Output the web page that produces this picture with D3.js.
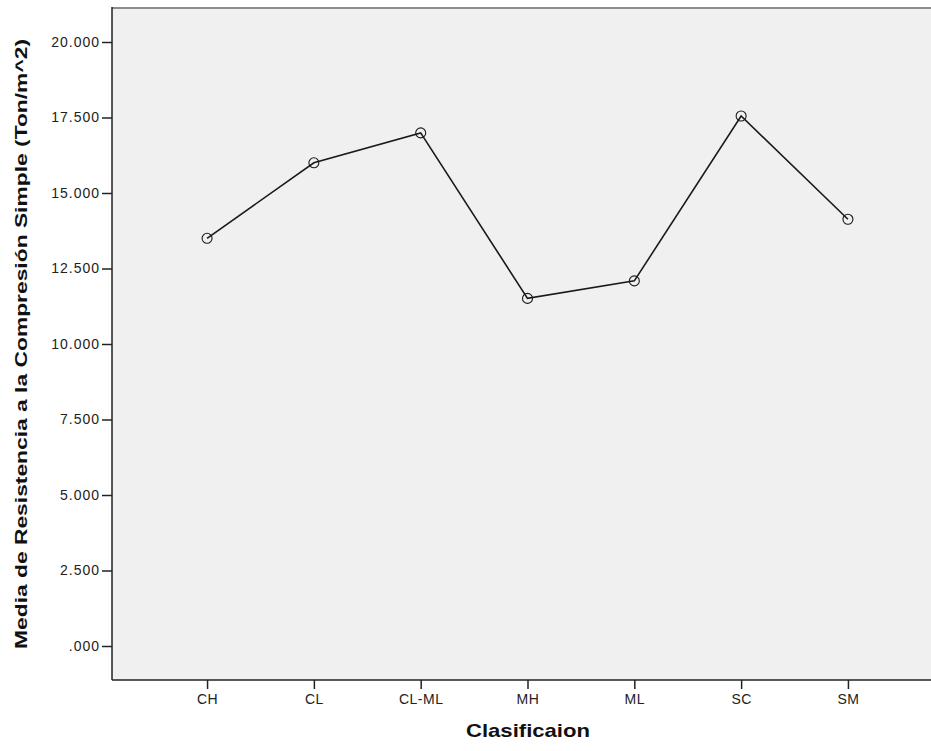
<!DOCTYPE html>
<html>
<head>
<meta charset="utf-8">
<script src="https://cdn.jsdelivr.net/npm/d3@7"></script>
<style>
  html, body { margin: 0; padding: 0; background: #ffffff; }
  svg { display: block; }
</style>
</head>
<body>
<div id="chart"></div>
<script>
// ---- data ----
const categories = ["CH", "CL", "CL-ML", "MH", "ML", "SC", "SM"];
const meanValues = [13.50, 16.00, 16.99, 11.51, 12.09, 17.55, 14.13];
const yTicks = [0, 2.5, 5, 7.5, 10, 12.5, 15, 17.5, 20];
const yTickLabels = [".000", "2.500", "5.000", "7.500", "10.000", "12.500", "15.000", "17.500", "20.000"];
const xTitle = "Clasificaion";
const yTitle = "Media de Resistencia a la Compresión Simple (Ton/m^2)";

// ---- layout ----
const W = 931, H = 751;
const plot = { left: 112, top: 7, right: 943, bottom: 680 };

const svg = d3.select("#chart").append("svg")
  .attr("width", W).attr("height", H)
  .style("font-family", "'Liberation Sans', Arial, sans-serif");

const x = d3.scalePoint().domain(categories)
  .range([plot.left, plot.right]).padding(0.89);
const y = d3.scaleLinear().domain([0, 20]).range([646, 42]);

// plot background
svg.append("rect")
  .attr("x", plot.left).attr("y", plot.top)
  .attr("width", plot.right - plot.left).attr("height", plot.bottom - plot.top)
  .attr("fill", "#f0f0f0");

// top border
svg.append("line")
  .attr("x1", plot.left).attr("x2", plot.right)
  .attr("y1", plot.top + 1).attr("y2", plot.top + 1)
  .attr("stroke", "#8c8c8c").attr("stroke-width", 2);

// y axis
const yAxis = d3.axisLeft(y).tickValues(yTicks)
  .tickFormat((d, i) => yTickLabels[i]).tickSize(10).tickSizeOuter(0).tickPadding(2);
const gy = svg.append("g").attr("transform", `translate(${plot.left},0)`).call(yAxis);
gy.select(".domain").remove();
gy.selectAll(".tick line").attr("stroke", "#222").attr("stroke-width", 1.5);
gy.selectAll(".tick text").attr("fill", "#222")
  .style("font-size", "14px").style("letter-spacing", "1px");

svg.append("line")
  .attr("x1", plot.left).attr("x2", plot.left)
  .attr("y1", plot.top).attr("y2", plot.bottom)
  .attr("stroke", "#222").attr("stroke-width", 1.5);

// x axis
const xAxis = d3.axisBottom(x).tickSize(9).tickSizeOuter(0).tickPadding(5);
const gx = svg.append("g").attr("transform", `translate(0,${plot.bottom})`).call(xAxis);
gx.select(".domain").remove();
gx.selectAll(".tick line").attr("stroke", "#222").attr("stroke-width", 1.5);
gx.selectAll(".tick text").attr("fill", "#222")
  .style("font-size", "14px").style("letter-spacing", "0.5px");

svg.append("line")
  .attr("x1", plot.left).attr("x2", plot.right)
  .attr("y1", plot.bottom).attr("y2", plot.bottom)
  .attr("stroke", "#222").attr("stroke-width", 1.5);

// line
const pts = categories.map((c, i) => ({ c, v: meanValues[i] }));
svg.append("path")
  .datum(pts)
  .attr("fill", "none")
  .attr("stroke", "#1a1a1a")
  .attr("stroke-width", 1.6)
  .attr("d", d3.line().x(d => x(d.c)).y(d => y(d.v)));

svg.selectAll("circle.pt").data(pts).enter().append("circle")
  .attr("class", "pt")
  .attr("cx", d => x(d.c)).attr("cy", d => y(d.v))
  .attr("r", 5)
  .attr("fill", "none")
  .attr("stroke", "#1a1a1a")
  .attr("stroke-width", 1.1);

// titles
svg.append("text")
  .attr("x", 528).attr("y", 737)
  .attr("text-anchor", "middle")
  .attr("font-weight", "bold")
  .attr("font-size", 19)
  .attr("fill", "#111")
  .attr("textLength", 124).attr("lengthAdjust", "spacingAndGlyphs")
  .text(xTitle);

svg.append("text")
  .attr("transform", "translate(27,344) rotate(-90)")
  .attr("text-anchor", "middle")
  .attr("font-weight", "bold")
  .attr("font-size", 16.5)
  .attr("fill", "#111")
  .attr("textLength", 610).attr("lengthAdjust", "spacingAndGlyphs")
  .text(yTitle);
</script>
</body>
</html>
